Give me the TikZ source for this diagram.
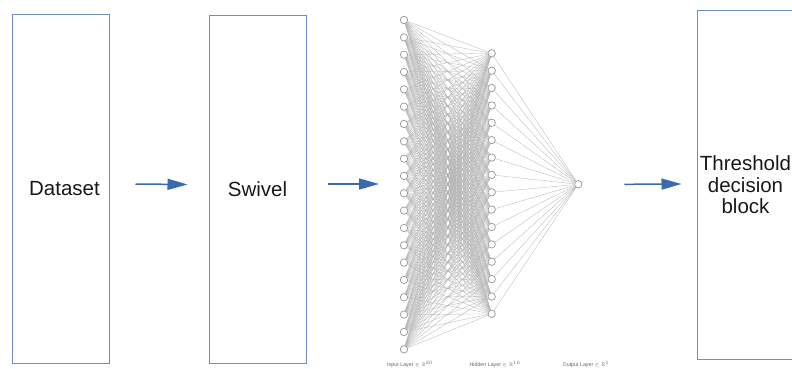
\documentclass[tikz,border=0pt]{standalone}
\usepackage{fontspec}
\usepackage{amssymb}
\setmainfont{Liberation Sans}
\usetikzlibrary{arrows.meta}
\definecolor{boxblue}{RGB}{112,140,192}
\definecolor{arrblue}{RGB}{58,106,176}
\definecolor{nnedge}{RGB}{180,180,180}
\definecolor{nnnode}{RGB}{150,150,150}
\tikzset{
  block/.style={draw=boxblue, line width=1pt, minimum width=97pt, minimum height=348pt, inner sep=0pt, font=\fontsize{20.5}{21.5}\selectfont, text=black!90},
  arr/.style={draw=arrblue, line width=1.5pt, -{Triangle[length=20pt,width=11pt]}},
  neuron/.style={circle, draw=nnnode, fill=white, line width=0.7pt, minimum size=7.4pt, inner sep=0pt},
  nnline/.style={draw=nnedge, line width=0.3pt},
  layerlabel/.style={font=\fontsize{5.3}{6}\selectfont, text=black!60}
}
\begin{document}
\begin{tikzpicture}[x=1pt, y=-1pt]
\useasboundingbox (0,0) rectangle (792,369);
\clip (0,0) rectangle (792,369);
\fill[white] (0,0) rectangle (792,369);
% blocks
\node[block] (ds) at (60.5,189) {\hspace*{8pt}Dataset};
\node[block] (sw) at (257.5,189.5) {Swivel};
\node[block, minimum width=97pt, align=center] (th) at (745.5,185) {Threshold\\decision\\block};
% neural net nodes
\foreach \i in {1,...,20} {
  \node[neuron] (in\i) at (404, {20 + (\i-1)*17.33}) {};
}
\foreach \j in {1,...,16} {
  \node[neuron] (hd\j) at (491.7, {53.3 + (\j-1)*17.37}) {};
}
\node[neuron] (out) at (578.3,184.3) {};
% edges
\foreach \i in {1,...,20} {
  \foreach \j in {1,...,16} {
    \draw[nnline] (in\i) -- (hd\j);
  }
}
\foreach \j in {1,...,16} {
  \draw[nnline] (hd\j) -- (out);
}
% layer labels
\node[layerlabel] (lin) at (410,364) {Input Layer $\in \mathbb{R}^{20}$};
\node[layerlabel] (lhd) at (495,364) {Hidden Layer $\in \mathbb{R}^{16}$};
\node[layerlabel] (lout) at (586,364) {Output Layer $\in \mathbb{R}^{1}$};
% arrows
\coordinate (nnin) at (400,184);
\draw[arr] ([xshift=26pt,yshift=5pt]ds.east) -- ([xshift=-21pt,yshift=5pt]sw.west);
\draw[arr] ([xshift=21pt,yshift=5.5pt]sw.east) -- ([xshift=-21pt]nnin);
\draw[arr] ([xshift=46pt]out.center) -- ([xshift=-15pt,yshift=1pt]th.west);
\end{tikzpicture}
\end{document}
